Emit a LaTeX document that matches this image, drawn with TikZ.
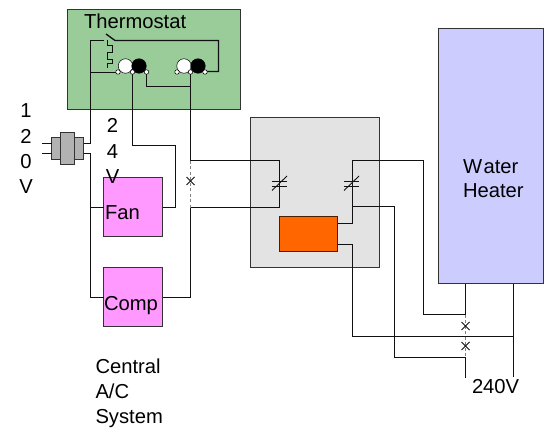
\documentclass[tikz,border=0pt]{standalone}
\usepackage{fontspec}
\setmainfont{Liberation Sans}
\definecolor{thgreen}{HTML}{99CC99}
\definecolor{fanpink}{HTML}{FF99FF}
\definecolor{relaygray}{HTML}{E3E3E3}
\definecolor{ctrlorange}{HTML}{FF6600}
\definecolor{heaterblue}{HTML}{CCCCFF}
\definecolor{xfgray}{HTML}{B2B2B2}
\definecolor{wirec}{HTML}{111111}
\definecolor{edgec}{HTML}{333333}
\tikzset{
  panel/.style={draw=edgec,line width=1.4pt,inner sep=0pt,outer sep=0pt,anchor=north west},
  wire/.style={draw=wirec,line width=1.35pt,line join=miter},
  swbreak/.style={draw=gray,line width=1.35pt,dash pattern=on 3pt off 2.5pt},
  xmark/.style={draw=wirec,line width=0.9pt},
  label/.style={inner sep=0pt,outer sep=0pt,anchor=base west,font=\fontsize{20.2}{24}\selectfont,text=black},
  lab/.style={inner sep=0pt,outer sep=0pt,anchor=base,font=\fontsize{20.2}{24}\selectfont,text=black},
  term/.style={circle,draw=black,fill=white,line width=0.5pt,minimum size=4.5pt,inner sep=0pt},
  whitec/.style={circle,draw=black,fill=white,line width=0.5pt,minimum size=14.5pt,inner sep=0pt},
  blackc/.style={circle,draw=black,fill=black,line width=0.5pt,minimum size=14.5pt,inner sep=0pt},
}
\begin{document}
\begin{tikzpicture}[x=1pt,y=-1pt]
\useasboundingbox (0,0) rectangle (546,428);
% boxes
\node[panel,fill=thgreen,minimum width=173pt,minimum height=100pt] (thermo) at (67.5,9.5) {};
\node[panel,fill=relaygray,minimum width=129pt,minimum height=150pt] (relay) at (250.5,117.5) {};
\node[panel,fill=ctrlorange,draw=black!70!ctrlorange,minimum width=58pt,minimum height=35pt] (ctrl) at (279.5,216.5) {};
\node[panel,fill=heaterblue,minimum width=105pt,minimum height=255pt] (heater) at (438.5,28.5) {};
\node[panel,fill=fanpink,minimum width=59pt,minimum height=59pt] (fan) at (103.5,177.5) {};
\node[panel,fill=fanpink,minimum width=59pt,minimum height=59pt] (comp) at (103.5,267.5) {};
% transformer
\node[panel,fill=xfgray,minimum width=32pt,minimum height=22pt] (xfo) at (51.5,137.5) {};
\node[panel,fill=xfgray,minimum width=14pt,minimum height=32pt] (xfi) at (60.5,132.5) {};
% junction coordinates
\coordinate (a1) at (90.5,40.5);
\coordinate (a2) at (90.5,72.5);
\coordinate (a3) at (90.5,143.5);
\coordinate (tr1) at (83.5,143.5);
\coordinate (tr2) at (83.5,153.5);
\coordinate (tl1) at (42,143.5);
\coordinate (tl2) at (51.5,143.5);
\coordinate (tl3) at (42,153.5);
\coordinate (tl4) at (51.5,153.5);
\coordinate (b1) at (90.5,153.5);
\coordinate (b2) at (90.5,207.5);
\coordinate (b3) at (90.5,297.5);
\coordinate (f1) at (103.5,207.5);
\coordinate (c1) at (103.5,297.5);
\coordinate (c2) at (162.5,297.5);
\coordinate (f2) at (162.5,207.5);
\coordinate (d1) at (175.5,207.5);
\coordinate (d2) at (175.5,145.5);
\coordinate (d3) at (132.5,145.5);
\coordinate (d4) at (132.5,72.5);
\coordinate (e0) at (190.5,72.5);
\coordinate (e1) at (190.5,160.5);
\coordinate (e2) at (190.5,207.5);
\coordinate (e3) at (190.5,297.5);
\coordinate (g1) at (279.5,160.5);
\coordinate (g2) at (279.5,207.5);
\coordinate (h1) at (352.5,223.5);
\coordinate (h2) at (337.5,223.5);
\coordinate (h3) at (352.5,160.5);
\coordinate (h4) at (423.5,160.5);
\coordinate (h5) at (423.5,314.5);
\coordinate (i1) at (352.5,206.5);
\coordinate (i2) at (394.5,206.5);
\coordinate (i3) at (394.5,357.5);
\coordinate (j1) at (337.5,244.5);
\coordinate (j2) at (352.5,244.5);
\coordinate (j3) at (352.5,336.5);
\coordinate (j4) at (513.5,336.5);
\coordinate (k1) at (465.5,283.5);
\coordinate (k2) at (465.5,314.5);
\coordinate (k3) at (465.5,357.5);
\coordinate (k4) at (465.5,378);
\coordinate (m1) at (513.5,283.5);
\coordinate (m2) at (513.5,377);
% thermostat switch
\coordinate (s0) at (104,40.5);
\coordinate (s1) at (106,34);
\coordinate (s2) at (115,40.5);
\coordinate (s3) at (218.5,40.5);
\coordinate (s4) at (218.5,71.5);
\coordinate (s5) at (146.5,86.5);
\coordinate (s6) at (190.5,86.5);
% wires
\draw[wire] (s0) -- (a1) -- (a3) -- (tr1);
\draw[wire] (a2) -- (118,72.5);
\draw[wire] (tl1) -- (tl2);
\draw[wire] (tl3) -- (tl4);
\draw[wire] (tr2) -- (b1) -- (b3) -- (c1);
\draw[wire] (b2) -- (f1);
\draw[wire] (f2) -- (d1) -- (d2) -- (d3) -- (d4);
\draw[wire] (e0) -- (e1) -- (g1) -- (g2) -- (e2) -- (e3) -- (c2);
\draw[wire,draw=none] (e1) -- (e2);
\draw[swbreak] (e1) -- (e2);
\draw[wire] (s1) -- (s2) -- (s3) -- (s4) -- (205,71.5);
\draw[wire] (107.5,40.5) -- (107.5,45.5) -- (112.5,45.5) -- (112.5,52.5) -- (107.5,52.5) -- (107.5,59.5) -- (112.5,59.5) -- (112.5,63.5) -- (107.5,63.5) -- (107.5,68.5);
\draw[wire] (146.5,72.5) -- (s5) -- (s6);
\draw[wire] (h2) -- (h1) -- (h3) -- (h4) -- (h5) -- (k2);
\draw[wire] (i1) -- (i2) -- (i3) -- (k3);
\draw[wire] (j1) -- (j2) -- (j3) -- (j4);
\draw[wire] (k1) -- (k2);
\draw[swbreak] (k2) -- (k3);
\draw[wire] (k3) -- (k4);
\draw[wire] (m1) -- (m2);
% x marks
\foreach \cx/\cy in {190.5/181,465.5/326,465.5/346}{
  \draw[xmark] (\cx-4,\cy-4) -- (\cx+4,\cy+4);
  \draw[xmark] (\cx-4,\cy+4) -- (\cx+4,\cy-4);
}
% slashed contacts
\foreach \cx in {279.5,351.5}{
  \draw[xmark] (\cx-7.5,181) -- (\cx+7.5,181);
  \draw[xmark] (\cx-7.5,186) -- (\cx+7.5,186);
  \draw[xmark] (\cx-7.5,190.5) -- (\cx+7.5,176);
}
% terminals
\node[whitec] (w1) at (125.5,66) {};
\node[blackc] (k5) at (139,66) {};
\node[whitec] (w2) at (184,66) {};
\node[blackc] (k6) at (198,66) {};
\node[term] (t1) at (118,72) {};
\node[term] (t2) at (132.5,72) {};
\node[term] (t3) at (146.5,72) {};
\node[term] (t4) at (177,72) {};
\node[term] (t5) at (190.5,72) {};
\node[term] (t6) at (205,72) {};
% text
\node[label] (tth) at (84,29) {Thermostat};
\node[lab] (v1a) at (26,117) {1};
\node[lab] (v1b) at (26,143) {2};
\node[lab] (v1c) at (26,168) {0};
\node[lab] (v1d) at (26,193) {V};
\node[lab] (v2a) at (112.5,132) {2};
\node[lab] (v2b) at (112.5,158) {4};
\node[lab] (v2c) at (112.5,183) {V};
\node[label] (tfan) at (105,219) {Fan};
\node[label] (tcomp) at (104,310) {Comp};
\node[label] (twa) at (463,173) {W\kern1.5pt ater};
\node[label] (the) at (463,197) {Heater};
\node[label] (tc1) at (95.5,373) {Central};
\node[label] (tc2) at (95.5,398) {A/C};
\node[label] (tc3) at (95.5,423) {System};
\node[label] (t240) at (472,393) {240V};
\end{tikzpicture}
\end{document}
